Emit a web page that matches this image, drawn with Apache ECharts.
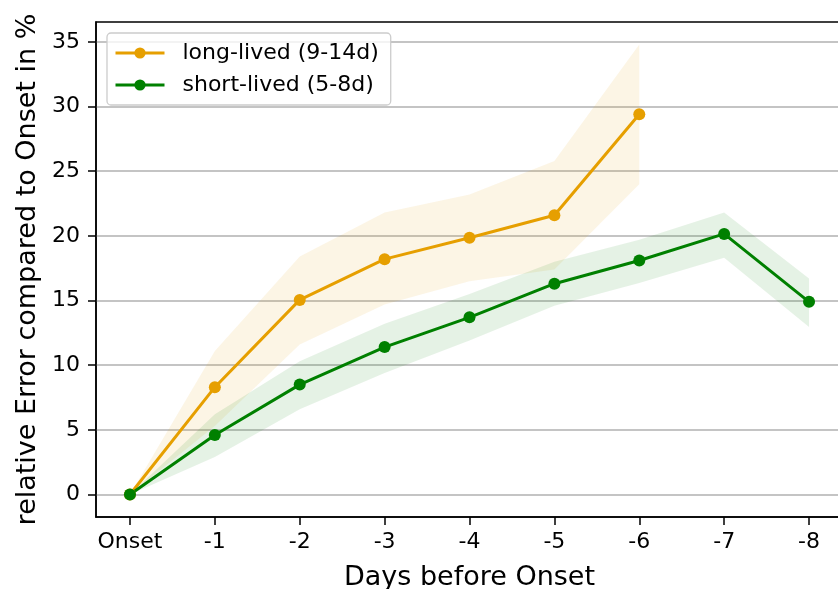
<!DOCTYPE html>
<html>
<head>
<meta charset="utf-8">
<script src="https://cdn.jsdelivr.net/npm/echarts@6/dist/echarts.min.js"></script>
<style>html,body{margin:0;padding:0;background:#fff}#c{width:838px;height:589px}</style>
</head>
<body>
<div id="c"></div>
<script>
// ---- data ----
const xLabels = ['Onset', '-1', '-2', '-3', '-4', '-5', '-6', '-7', '-8'];
const yTicks = [0, 5, 10, 15, 20, 25, 30, 35];

const longName = 'long-lived (9-14d)';
const longMean  = [0, 8.3, 15.05, 18.2, 19.85, 21.6, 29.4];
const longLower = [0, 5.3, 11.6, 14.7, 16.5, 17.4, 24.0];
const longUpper = [0, 11.1, 18.4, 21.8, 23.2, 25.8, 34.8];

const shortName = 'short-lived (5-8d)';
const shortMean  = [0, 4.6, 8.5, 11.4, 13.7, 16.3, 18.1, 20.15, 14.9];
const shortLower = [0, 2.9, 6.6, 9.4, 11.9, 14.6, 16.35, 18.3, 12.95];
const shortUpper = [0, 6.2, 10.3, 13.2, 15.5, 18.0, 19.7, 21.8, 16.7];

const ORANGE = '#E69F00';
const GREEN = '#008000';
const FONT = 'DejaVu Sans';

const pairs = arr => arr.map((v, i) => [i, v]);

function bandSeries(lo, hi, color) {
  const data = lo.map((v, i) => [i, v, hi[i]]);
  return {
    type: 'custom',
    silent: true,
    z: 1,
    data: data,
    encode: { x: 0, y: [1, 2] },
    renderItem: function (params, api) {
      if (params.dataIndex !== 0) return null;
      const top = [], bot = [];
      for (let i = 0; i < data.length; i++) {
        top.push(api.coord([data[i][0], data[i][2]]));
        bot.push(api.coord([data[i][0], data[i][1]]));
      }
      const pts = top.concat(bot.reverse());
      return {
        type: 'polygon',
        shape: { points: pts },
        style: { fill: color, stroke: 'none' }
      };
    }
  };
}

function meanSeries(name, vals, color) {
  return {
    type: 'line', name: name, data: pairs(vals),
    symbol: 'circle', symbolSize: 12,
    lineStyle: { color: color, width: 3 },
    itemStyle: { color: color },
    z: 5
  };
}

const chart = echarts.init(document.getElementById('c'), null, { renderer: 'canvas' });
chart.setOption({
  animation: false,
  backgroundColor: '#ffffff',
  textStyle: { fontFamily: FONT },
  grid: {
    left: 96, top: 22, right: -5, bottom: 72,
    containLabel: false, outerBoundsMode: 'none',
    show: true, borderColor: '#000', borderWidth: 1.5, backgroundColor: 'transparent'
  },
  legend: {
    data: [longName, shortName],
    orient: 'vertical',
    left: 107, top: 33,
    padding: [9, 12, 9, 7],
    itemWidth: 49, itemHeight: 14, itemGap: 10,
    lineStyle: { width: 3 },
    backgroundColor: 'rgba(255,255,255,0.8)',
    borderColor: '#cccccc', borderWidth: 1.3, borderRadius: 4,
    textStyle: { fontFamily: FONT, fontSize: 22, color: '#000', padding: [0, 0, 0, 13] }
  },
  xAxis: {
    type: 'value', min: -0.4, max: 8.4,
    name: 'Days before Onset', nameLocation: 'middle', nameGap: 47,
    nameTextStyle: { fontFamily: FONT, fontSize: 27, color: '#000' },
    axisLine: { show: true, onZero: false, lineStyle: { color: '#000', width: 1.5 } },
    axisTick: { show: true, length: 8, lineStyle: { color: '#000', width: 1.5 }, customValues: xLabels.map((_, i) => i) },
    axisLabel: {
      customValues: xLabels.map((_, i) => i),
      formatter: v => xLabels[Math.round(v)],
      fontFamily: FONT, fontSize: 22, color: '#000', margin: 14
    },
    splitLine: { show: false }
  },
  yAxis: {
    type: 'value', min: -1.74, max: 36.54,
    name: 'relative Error compared to Onset in %', nameLocation: 'middle', nameGap: 52,
    nameTextStyle: { fontFamily: FONT, fontSize: 27, color: '#000' },
    axisLine: { show: true, onZero: false, lineStyle: { color: '#000', width: 1.5 } },
    axisTick: { show: true, length: 8, lineStyle: { color: '#000', width: 1.5 }, customValues: yTicks },
    axisLabel: { customValues: yTicks, fontFamily: FONT, fontSize: 22, color: '#000', margin: 16 },
    splitLine: { show: true, lineStyle: { color: '#b0b0b0', width: 1.5 } }
  },
  series: [
    bandSeries(longLower, longUpper, 'rgba(230,159,0,0.1)'),
    bandSeries(shortLower, shortUpper, 'rgba(0,128,0,0.1)'),
    meanSeries(longName, longMean, ORANGE),
    meanSeries(shortName, shortMean, GREEN)
  ]
});
</script>
</body>
</html>
